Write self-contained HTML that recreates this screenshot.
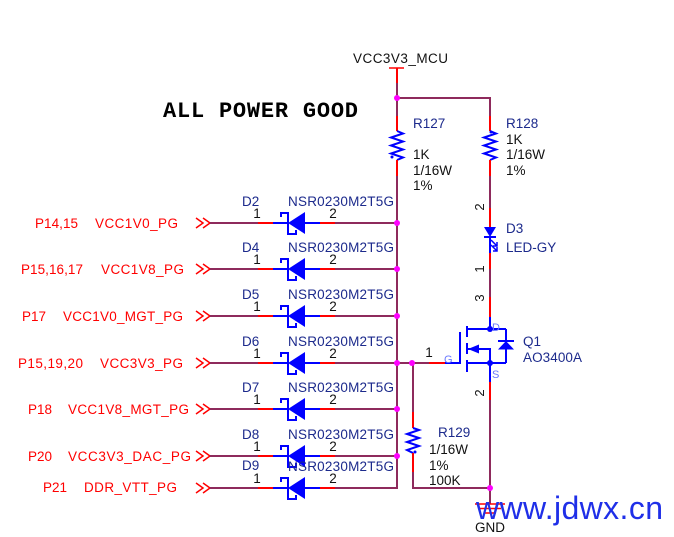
<!DOCTYPE html>
<html><head><meta charset="utf-8"><style>
html,body{margin:0;padding:0;background:#fff;}
svg{display:block;}
text{font-family:"Liberation Sans",Arial,sans-serif;}
</style></head><body>
<svg width="674" height="537" viewBox="0 0 674 537" xmlns="http://www.w3.org/2000/svg">
<rect width="674" height="537" fill="#fff"/>
<defs>
<g id="row">
  <polyline points="196,-5 203,0 196,5" fill="none" stroke="#ff0000" stroke-width="1.5"/>
  <polyline points="203,-5 210,0 203,5" fill="none" stroke="#ff0000" stroke-width="1.5"/>
  <line x1="210" y1="0" x2="258" y2="0" stroke="#8e2a5c" stroke-width="2"/>
  <line x1="258" y1="0" x2="273" y2="0" stroke="#ff0000" stroke-width="2"/>
  <line x1="273" y1="0" x2="288" y2="0" stroke="#0000ff" stroke-width="2"/>
  <polyline points="281,-6 281,-10 288,-10 288,11 296,11 296,7" fill="none" stroke="#0000ff" stroke-width="2"/>
  <polygon points="288,0 305,-11 305,11" fill="#0000ff"/>
  <line x1="305" y1="0" x2="320" y2="0" stroke="#0000ff" stroke-width="2"/>
  <line x1="320" y1="0" x2="335" y2="0" stroke="#ff0000" stroke-width="2"/>
  <line x1="335" y1="0" x2="397" y2="0" stroke="#8e2a5c" stroke-width="2"/>
  <text x="257" y="-5" font-size="13.5" fill="#111" text-anchor="middle">1</text>
  <text x="333" y="-5" font-size="13.5" fill="#111" text-anchor="middle">2</text>
  <text x="288" y="-17" font-size="13.5" fill="#1c2a8c" textLength="106">NSR0230M2T5G</text>
</g>
</defs>

<!-- title -->
<text x="163" y="117" style="font-family:'Liberation Mono','DejaVu Sans Mono',monospace;font-weight:bold;font-size:22px" fill="#000" textLength="195">ALL POWER GOOD</text>

<!-- power symbol -->
<text x="353" y="63" font-size="13.5" fill="#111" textLength="95">VCC3V3_MCU</text>
<line x1="389" y1="68" x2="404" y2="68" stroke="#ff0000" stroke-width="1.5"/>
<line x1="397" y1="68" x2="397" y2="83" stroke="#ff0000" stroke-width="2"/>
<line x1="397" y1="83" x2="397" y2="116" stroke="#8e2a5c" stroke-width="2"/>
<polyline points="397,98 490,98 490,116" fill="none" stroke="#8e2a5c" stroke-width="2"/>

<!-- R127 -->
<line x1="397" y1="116" x2="397" y2="131" stroke="#ff0000" stroke-width="2"/>
<polyline points="397,131 403,133.5 391,137.5 403,141.5 391,145.5 403,149.5 391,153.5 403,157.5 397,160" fill="none" stroke="#0000ff" stroke-width="2"/>
<circle cx="392" cy="157" r="1.5" fill="#0000ff"/>
<line x1="397" y1="160" x2="397" y2="176" stroke="#ff0000" stroke-width="2"/>
<line x1="397" y1="176" x2="397" y2="489" stroke="#8e2a5c" stroke-width="2"/>
<text x="413" y="128" font-size="13.5" fill="#1c2a8c">R127</text>
<text x="413" y="159" font-size="13.5" fill="#111">1K</text>
<text x="413" y="175" font-size="13.5" fill="#111">1/16W</text>
<text x="413" y="190" font-size="13.5" fill="#111">1%</text>

<!-- R128 -->
<line x1="490" y1="116" x2="490" y2="131" stroke="#ff0000" stroke-width="2"/>
<polyline points="490,131 496,133.5 484,137.5 496,141.5 484,145.5 496,149.5 484,153.5 496,157.5 490,160" fill="none" stroke="#0000ff" stroke-width="2"/>
<circle cx="491" cy="132" r="1.5" fill="#0000ff"/>
<line x1="490" y1="160" x2="490" y2="176" stroke="#ff0000" stroke-width="2"/>
<line x1="490" y1="176" x2="490" y2="208" stroke="#8e2a5c" stroke-width="2"/>
<text x="506" y="128" font-size="13.5" fill="#1c2a8c">R128</text>
<text x="506" y="144" font-size="13.5" fill="#111">1K</text>
<text x="506" y="159" font-size="13.5" fill="#111">1/16W</text>
<text x="506" y="175" font-size="13.5" fill="#111">1%</text>

<!-- D3 LED -->
<line x1="490" y1="208" x2="490" y2="227" stroke="#ff0000" stroke-width="2"/>
<polygon points="484,227 496,227 490,237" fill="#0000ff"/>
<line x1="484" y1="237" x2="496" y2="237" stroke="#0000ff" stroke-width="2"/>
<line x1="490" y1="237" x2="490" y2="253" stroke="#0000ff" stroke-width="2"/>
<line x1="491" y1="240" x2="497" y2="246" stroke="#0000ff" stroke-width="1.5"/>
<line x1="491" y1="245" x2="497" y2="251" stroke="#0000ff" stroke-width="1.5"/>
<polyline points="493,246 497,246 497,242" fill="none" stroke="#0000ff" stroke-width="1.5"/>
<polyline points="493,251 497,251 497,247" fill="none" stroke="#0000ff" stroke-width="1.5"/>
<line x1="490" y1="253" x2="490" y2="269" stroke="#ff0000" stroke-width="2"/>
<line x1="490" y1="269" x2="490" y2="297" stroke="#8e2a5c" stroke-width="2"/>
<line x1="490" y1="297" x2="490" y2="317" stroke="#ff0000" stroke-width="2"/>
<line x1="490" y1="317" x2="490" y2="329" stroke="#0000ff" stroke-width="2"/>
<text x="506" y="233" font-size="13.5" fill="#1c2a8c">D3</text>
<text x="506" y="252" font-size="13.5" fill="#1c2a8c">LED-GY</text>
<text transform="translate(484,207) rotate(-90)" font-size="13" fill="#111" text-anchor="middle">2</text>
<text transform="translate(484,269) rotate(-90)" font-size="13" fill="#111" text-anchor="middle">1</text>
<text transform="translate(484,298) rotate(-90)" font-size="13" fill="#111" text-anchor="middle">3</text>
<text transform="translate(484,393) rotate(-90)" font-size="13" fill="#111" text-anchor="middle">2</text>

<!-- Q1 MOSFET -->
<line x1="467" y1="329" x2="506" y2="329" stroke="#0000ff" stroke-width="2"/>
<line x1="467" y1="363" x2="506" y2="363" stroke="#0000ff" stroke-width="2"/>
<line x1="506" y1="329" x2="506" y2="363" stroke="#0000ff" stroke-width="2"/>
<line x1="467" y1="326" x2="467" y2="337" stroke="#0000ff" stroke-width="2"/>
<line x1="467" y1="343" x2="467" y2="354" stroke="#0000ff" stroke-width="2"/>
<line x1="467" y1="360" x2="467" y2="372" stroke="#0000ff" stroke-width="2"/>
<polyline points="467,349 490,349 490,363" fill="none" stroke="#0000ff" stroke-width="2"/>
<polygon points="468,349 479,344.5 479,353.5" fill="#0000ff"/>
<line x1="460" y1="332" x2="460" y2="364" stroke="#0000ff" stroke-width="2"/>
<line x1="445" y1="363" x2="461" y2="363" stroke="#0000ff" stroke-width="2"/>
<line x1="429" y1="363" x2="445" y2="363" stroke="#ff0000" stroke-width="2"/>
<line x1="397" y1="363" x2="429" y2="363" stroke="#8e2a5c" stroke-width="2"/>
<line x1="498" y1="341" x2="514" y2="341" stroke="#0000ff" stroke-width="2"/>
<polygon points="506,341 498,349.5 514,349.5" fill="#0000ff"/>
<circle cx="490" cy="329" r="3" fill="#0000ff"/>
<circle cx="490" cy="363" r="3" fill="#0000ff"/>
<text x="492" y="331" font-size="11" fill="#6a78ff">D</text>
<text x="492" y="378" font-size="11" fill="#6a78ff">S</text>
<text x="444" y="363" font-size="11" fill="#6a78ff">G</text>
<text x="429" y="357" font-size="13.5" fill="#111" text-anchor="middle">1</text>
<text x="523" y="346" font-size="13.5" fill="#1c2a8c">Q1</text>
<text x="523" y="362" font-size="13.5" fill="#1c2a8c" textLength="59">AO3400A</text>
<line x1="490" y1="363" x2="490" y2="382" stroke="#0000ff" stroke-width="2"/>
<line x1="490" y1="382" x2="490" y2="400" stroke="#ff0000" stroke-width="2"/>
<line x1="490" y1="400" x2="490" y2="504" stroke="#8e2a5c" stroke-width="2"/>

<!-- R129 -->
<line x1="413" y1="363" x2="413" y2="412" stroke="#8e2a5c" stroke-width="2"/>
<line x1="413" y1="412" x2="413" y2="428" stroke="#ff0000" stroke-width="2"/>
<polyline points="413,428 419,430 407,434 419,438 407,442 419,446 407,450 413,453" fill="none" stroke="#0000ff" stroke-width="2"/>
<circle cx="415" cy="452" r="1.5" fill="#0000ff"/>
<line x1="413" y1="453" x2="413" y2="472" stroke="#ff0000" stroke-width="2"/>
<polyline points="413,472 413,488 490,488" fill="none" stroke="#8e2a5c" stroke-width="2"/>
<text x="438" y="437" font-size="13.5" fill="#1c2a8c">R129</text>
<text x="429" y="454" font-size="13.5" fill="#111">1/16W</text>
<text x="429" y="470" font-size="13.5" fill="#111">1%</text>
<text x="429" y="485" font-size="13.5" fill="#111">100K</text>

<!-- diode rows -->
<use href="#row" transform="translate(0,223)"/>
<use href="#row" transform="translate(0,269)"/>
<use href="#row" transform="translate(0,316)"/>
<use href="#row" transform="translate(0,363)"/>
<use href="#row" transform="translate(0,409)"/>
<use href="#row" transform="translate(0,456)"/>
<use href="#row" transform="translate(0,488)"/>
<g font-size="13.5" fill="#1c2a8c">
<text x="242" y="206">D2</text>
<text x="242" y="252">D4</text>
<text x="242" y="299">D5</text>
<text x="242" y="346">D6</text>
<text x="242" y="392">D7</text>
<text x="242" y="439">D8</text>
<text x="242" y="470">D9</text>
</g>

<!-- junction dots -->
<g fill="#ff00ff">
<circle cx="397" cy="98" r="3"/>
<circle cx="397" cy="223" r="3"/>
<circle cx="397" cy="269" r="3"/>
<circle cx="397" cy="316" r="3"/>
<circle cx="397" cy="363" r="3"/>
<circle cx="412" cy="363" r="3"/>
<circle cx="397" cy="409" r="3"/>
<circle cx="397" cy="456" r="3"/>
<circle cx="490" cy="488" r="3"/>
</g>

<!-- left labels -->
<g font-size="13.5" fill="#ff0000">
<text x="35" y="228" textLength="43">P14,15</text>
<text x="95" y="228" textLength="83">VCC1V0_PG</text>
<text x="21" y="274" textLength="62">P15,16,17</text>
<text x="101" y="274" textLength="83">VCC1V8_PG</text>
<text x="22" y="321" textLength="24">P17</text>
<text x="63" y="321" textLength="120">VCC1V0_MGT_PG</text>
<text x="18" y="368" textLength="65">P15,19,20</text>
<text x="100" y="368" textLength="83">VCC3V3_PG</text>
<text x="28" y="414" textLength="24">P18</text>
<text x="68" y="414" textLength="121">VCC1V8_MGT_PG</text>
<text x="28" y="461" textLength="24">P20</text>
<text x="68" y="461" textLength="123">VCC3V3_DAC_PG</text>
<text x="43" y="492" textLength="24">P21</text>
<text x="84" y="492" textLength="93">DDR_VTT_PG</text>
</g>

<!-- GND -->
<line x1="475" y1="504" x2="505" y2="504" stroke="#ff0000" stroke-width="1.5"/>
<line x1="479" y1="508.5" x2="501" y2="508.5" stroke="#ff0000" stroke-width="1.5"/>
<line x1="484" y1="513" x2="496" y2="513" stroke="#ff0000" stroke-width="1.5"/>
<text x="475" y="532" font-size="13.5" fill="#111" textLength="30">GND</text>

<!-- watermark -->
<text x="476" y="519" font-size="32" fill="#1f2fe8" textLength="187">www.jdwx.cn</text>
</svg>
</body></html>
